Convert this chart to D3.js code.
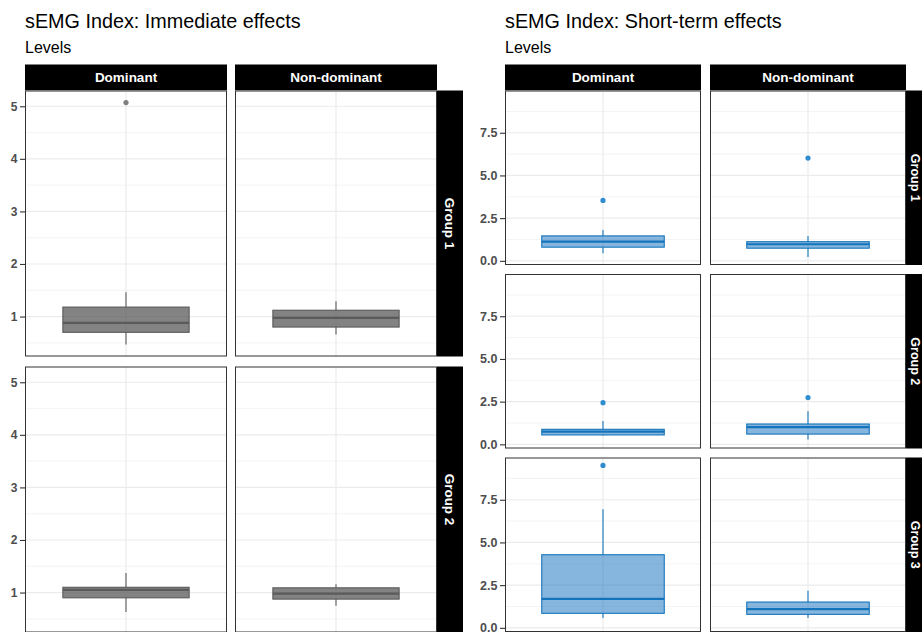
<!DOCTYPE html>
<html>
<head>
<meta charset="utf-8">
<script src="https://cdn.jsdelivr.net/npm/d3@7"></script>
<style>
  body { margin: 0; background: #fff; }
  svg { display: block; font-family: "Liberation Sans", Arial, sans-serif; }
</style>
</head>
<body>
<svg id="chart" width="922" height="632"></svg>
<script>
//------------------------------------------------------------------------------
//Data (one entry per panel, row by row: Dominant, Non-dominant, ...)
//------------------------------------------------------------------------------
const sides = ["Dominant", "Non-dominant"];
const immGroups = ["Group 1", "Group 2"];
const shortGroups = ["Group 1", "Group 2", "Group 3"];

const immLower    = [0.47, 0.66, 0.63, 0.75];
const immQ1       = [0.70, 0.80, 0.90, 0.875];
const immMedian   = [0.88, 0.975, 1.05, 0.98];
const immQ3       = [1.18, 1.12, 1.10, 1.09];
const immUpper    = [1.46, 1.29, 1.37, 1.16];
const immOutliers = [[5.07], [], [], []];
const immTicks    = [1, 2, 3, 4, 5];

const shortLower    = [0.45, 0.22, 0.52, 0.28, 0.58, 0.58];
const shortQ1       = [0.80, 0.74, 0.55, 0.60, 0.85, 0.79];
const shortMedian   = [1.12, 0.97, 0.74, 1.01, 1.70, 1.10];
const shortQ3       = [1.46, 1.12, 0.88, 1.19, 4.28, 1.51];
const shortUpper    = [1.81, 1.46, 1.37, 1.93, 6.94, 2.17];
const shortOutliers = [[3.54], [6.02], [2.44], [2.74], [9.51], []];
const shortTicks    = [0, 2.5, 5, 7.5];

var svg = d3.select("#chart");

//------------------------------------------------------------------------------
//Facet grid of boxplots
//------------------------------------------------------------------------------
function facetBoxplot(cfg) {
  var nCols = cfg.cols.length;

  // shared y scale, ggplot style 5% expansion
  var all = cfg.lower.concat(cfg.upper, cfg.outliers.flat());
  var ext = d3.extent(all);
  var pad = (ext[1] - ext[0]) * 0.05;
  var y = d3.scaleLinear()
    .domain([ext[0] - pad, ext[1] + pad])
    .range([cfg.panelH, 0]);

  var x = d3.scaleLinear().domain([0.4, 1.6]).range([0, cfg.panelW]);

  // minor breaks halfway between the majors
  var step = cfg.ticks[1] - cfg.ticks[0];
  var minors = [];
  for (let v = cfg.ticks[0] - step / 2; v <= y.domain()[1]; v += step) {
    if (v >= y.domain()[0]) minors.push(v);
  }

  // titles
  svg.append("text")
    .attr("x", cfg.left).attr("y", 28.3)
    .attr("font-size", "19.8px").attr("fill", "#000")
    .text(cfg.title);
  svg.append("text")
    .attr("x", cfg.left).attr("y", 52.7)
    .attr("font-size", "16px").attr("fill", "#000")
    .text(cfg.subtitle);

  var panelsTop = cfg.top + cfg.stripH;

  // column strips
  cfg.cols.forEach((name, c) => {
    var px = cfg.left + c * (cfg.panelW + cfg.gapX);
    svg.append("rect")
      .attr("x", px).attr("y", cfg.top)
      .attr("width", cfg.panelW).attr("height", cfg.stripH)
      .attr("fill", "#000");
    svg.append("text")
      .attr("x", px + cfg.panelW / 2).attr("y", cfg.top + cfg.stripH / 2)
      .attr("dy", "0.36em")
      .attr("text-anchor", "middle")
      .attr("font-size", "13.5px").attr("font-weight", "bold")
      .attr("fill", "#fff")
      .text(name);
  });

  // row strips
  var stripX = cfg.left + nCols * cfg.panelW + (nCols - 1) * cfg.gapX;
  cfg.rows.forEach((name, r) => {
    var py = panelsTop + r * (cfg.panelH + cfg.gapY);
    svg.append("rect")
      .attr("x", stripX).attr("y", py)
      .attr("width", cfg.rowStripW).attr("height", cfg.panelH)
      .attr("fill", "#000");
    svg.append("text")
      .attr("transform", "translate(" + (stripX + cfg.rowTextX) + "," + (py + cfg.panelH / 2) + ") rotate(90)")
      .attr("dy", "0.36em")
      .attr("text-anchor", "middle")
      .attr("font-size", cfg.rowFont).attr("font-weight", "bold")
      .attr("fill", "#fff")
      .text(name);
  });

  // panels
  cfg.rows.forEach((rowName, r) => {
    cfg.cols.forEach((colName, c) => {
      var i = r * nCols + c;
      var px = cfg.left + c * (cfg.panelW + cfg.gapX);
      var py = panelsTop + r * (cfg.panelH + cfg.gapY);
      var g = svg.append("g").attr("transform", "translate(" + px + "," + py + ")");

      g.append("rect")
        .attr("width", cfg.panelW).attr("height", cfg.panelH)
        .attr("fill", "#fff");

      g.selectAll(".minor")
        .data(minors).enter().append("line")
        .attr("x1", 0).attr("x2", cfg.panelW)
        .attr("y1", d => y(d)).attr("y2", d => y(d))
        .attr("stroke", "#efefef").attr("stroke-width", 0.7);

      g.selectAll(".major")
        .data(cfg.ticks).enter().append("line")
        .attr("x1", 0).attr("x2", cfg.panelW)
        .attr("y1", d => y(d)).attr("y2", d => y(d))
        .attr("stroke", "#ebebeb").attr("stroke-width", 1.2);

      g.append("line")
        .attr("x1", x(1)).attr("x2", x(1))
        .attr("y1", 0).attr("y2", cfg.panelH)
        .attr("stroke", "#ebebeb").attr("stroke-width", 1.2);

      // whiskers
      g.append("line")
        .attr("x1", x(1)).attr("x2", x(1))
        .attr("y1", y(cfg.upper[i])).attr("y2", y(cfg.q3[i]))
        .attr("stroke", cfg.stroke).attr("stroke-width", 1.1);
      g.append("line")
        .attr("x1", x(1)).attr("x2", x(1))
        .attr("y1", y(cfg.q1[i])).attr("y2", y(cfg.lower[i]))
        .attr("stroke", cfg.stroke).attr("stroke-width", 1.1);

      // box
      g.append("rect")
        .attr("x", x(0.625)).attr("width", x(1.375) - x(0.625))
        .attr("y", y(cfg.q3[i])).attr("height", y(cfg.q1[i]) - y(cfg.q3[i]))
        .attr("fill", cfg.fill).attr("fill-opacity", cfg.fillOpacity)
        .attr("stroke", cfg.stroke).attr("stroke-width", 1.1);

      g.append("line")
        .attr("x1", x(0.625)).attr("x2", x(1.375))
        .attr("y1", y(cfg.median[i])).attr("y2", y(cfg.median[i]))
        .attr("stroke", cfg.stroke).attr("stroke-width", 2.2);

      g.selectAll(".outlier")
        .data(cfg.outliers[i]).enter().append("circle")
        .attr("cx", x(1)).attr("cy", d => y(d))
        .attr("r", 2.6)
        .attr("fill", cfg.pointColor);

      g.append("rect")
        .attr("x", 0.5).attr("y", 0.5)
        .attr("width", cfg.panelW - 1).attr("height", cfg.panelH - 1)
        .attr("fill", "none").attr("stroke", "#333").attr("stroke-width", 1);

      // y axis on the first column
      if (c == 0) {
        var ax = svg.append("g")
          .attr("transform", "translate(" + px + "," + py + ")")
          .call(d3.axisLeft(y)
            .tickValues(cfg.ticks)
            .tickFormat(cfg.format)
            .tickSize(5)
            .tickPadding(2.5)
            .tickSizeOuter(0));
        ax.select(".domain").remove();
        ax.selectAll(".tick line").attr("stroke", "#333").attr("stroke-width", 1.1);
        ax.selectAll(".tick text")
          .attr("fill", "#4d4d4d")
          .attr("font-family", "Liberation Sans, Arial, sans-serif")
          .attr("font-weight", "bold")
          .attr("font-size", cfg.tickFont);
      }
    });
  });
}

//------------------------------------------------------------------------------
//Main
//------------------------------------------------------------------------------
facetBoxplot({
  title: "sEMG Index: Immediate effects",
  subtitle: "Levels",
  cols: sides, rows: immGroups,
  lower: immLower, q1: immQ1, median: immMedian, q3: immQ3, upper: immUpper,
  outliers: immOutliers, ticks: immTicks, format: d3.format("d"),
  left: 25, top: 64.5, stripH: 26, panelW: 202, panelH: 266,
  gapX: 8, gapY: 10, rowStripW: 26, rowTextX: 13, rowFont: "13.5px",
  fill: "#595959", fillOpacity: 0.75, stroke: "#5a5a5a", pointColor: "#7f7f7f",
  tickFont: "12px"
});

facetBoxplot({
  title: "sEMG Index: Short-term effects",
  subtitle: "Levels",
  cols: sides, rows: shortGroups,
  lower: shortLower, q1: shortQ1, median: shortMedian, q3: shortQ3, upper: shortUpper,
  outliers: shortOutliers, ticks: shortTicks, format: d3.format(".1f"),
  left: 505, top: 64.5, stripH: 26, panelW: 196, panelH: 174.5,
  gapX: 9, gapY: 9, rowStripW: 26, rowTextX: 9, rowFont: "12.5px",
  fill: "#0d6ebd", fillOpacity: 0.5, stroke: "#1474bb", pointColor: "#2e8ccf",
  tickFont: "12.5px"
});
</script>
</body>
</html>
